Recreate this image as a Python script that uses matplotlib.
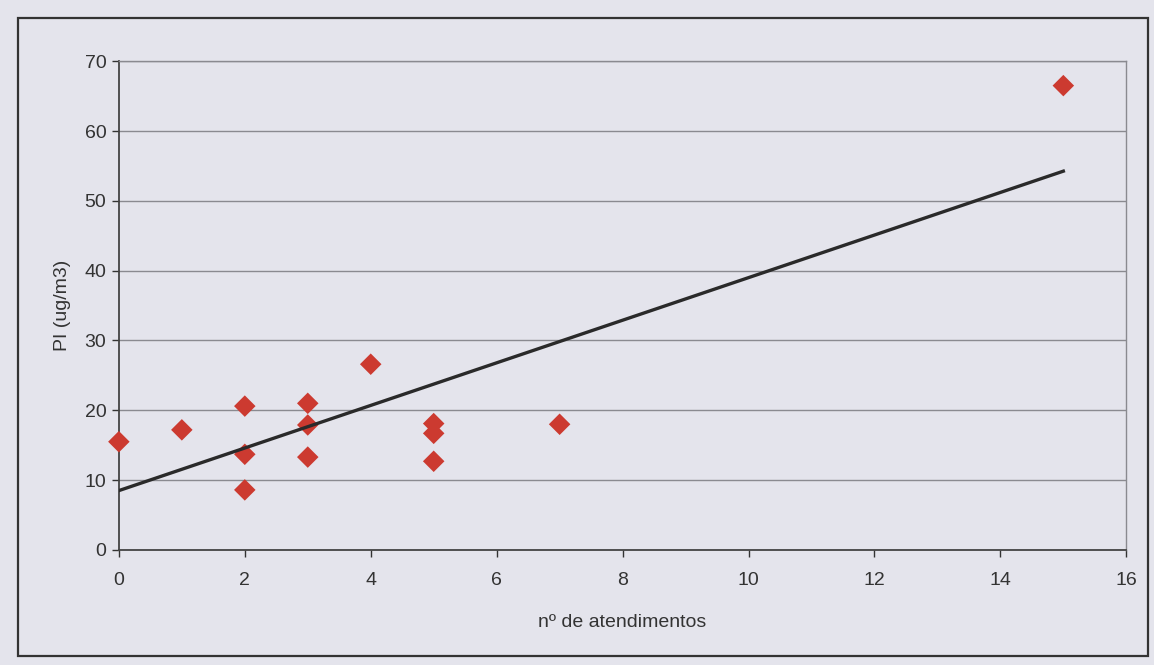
import matplotlib.pyplot as plt
from matplotlib.patches import Rectangle
import numpy as np

# values
atendimentos = [0, 1, 2, 2, 2, 3, 3, 3, 4, 5, 5, 5, 7, 15]
pi_ugm3 = [15.5, 17.2, 20.6, 13.7, 8.6, 21.0, 17.9, 13.3, 26.6, 18.1, 16.7, 12.7, 18.0, 66.5]

# linear trend line as drawn on the original (slope, intercept)
trend_coef = [3.05, 8.5]

x_ticks = [0, 2, 4, 6, 8, 10, 12, 14, 16]
y_ticks = [0, 10, 20, 30, 40, 50, 60, 70]

bg = '#e4e4ec'
plt.rcParams['font.family'] = ['Liberation Sans', 'DejaVu Sans']

fig = plt.figure(figsize=(11.54, 6.65), dpi=100, facecolor=bg)
ax = fig.add_axes([0.103, 0.173, 0.873, 0.735], facecolor=bg)

# outer chart border
fig.patches.append(Rectangle((18 / 1154, 1 - 656 / 665), 1130 / 1154, 638 / 665,
                             transform=fig.transFigure, fill=False,
                             edgecolor='#333333', linewidth=1.6))

ax.set_xlim(0, 16)
ax.set_ylim(0, 70)
ax.set_xticks(x_ticks)
ax.set_yticks(y_ticks)
ax.grid(axis='y', color='#8a8a90', linewidth=1.0)
ax.set_axisbelow(True)

for side in ['top', 'right']:
    ax.spines[side].set_color('#8a8a90')
    ax.spines[side].set_linewidth(1.0)
for side in ['left', 'bottom']:
    ax.spines[side].set_color('#444444')
    ax.spines[side].set_linewidth(1.3)

ax.tick_params(axis='both', labelsize=14, colors='#333333', length=5, width=1.0)
ax.tick_params(axis='x', pad=11)
ax.tick_params(axis='y', pad=4)

ax.scatter(atendimentos, pi_ugm3, marker='D', s=120, color='#cc3a30',
           edgecolors='none', zorder=3, clip_on=False)

xt = np.array([min(atendimentos), max(atendimentos)])
ax.plot(xt, np.polyval(trend_coef, xt), color='#2a2a2a', linewidth=2.4, zorder=4)

ax.set_xlabel('nº de atendimentos', fontsize=14, color='#333333', labelpad=18)
ax.set_ylabel('PI (ug/m3)', fontsize=14, color='#333333', labelpad=10)

fig.savefig('out.png', dpi=100, facecolor=bg)
